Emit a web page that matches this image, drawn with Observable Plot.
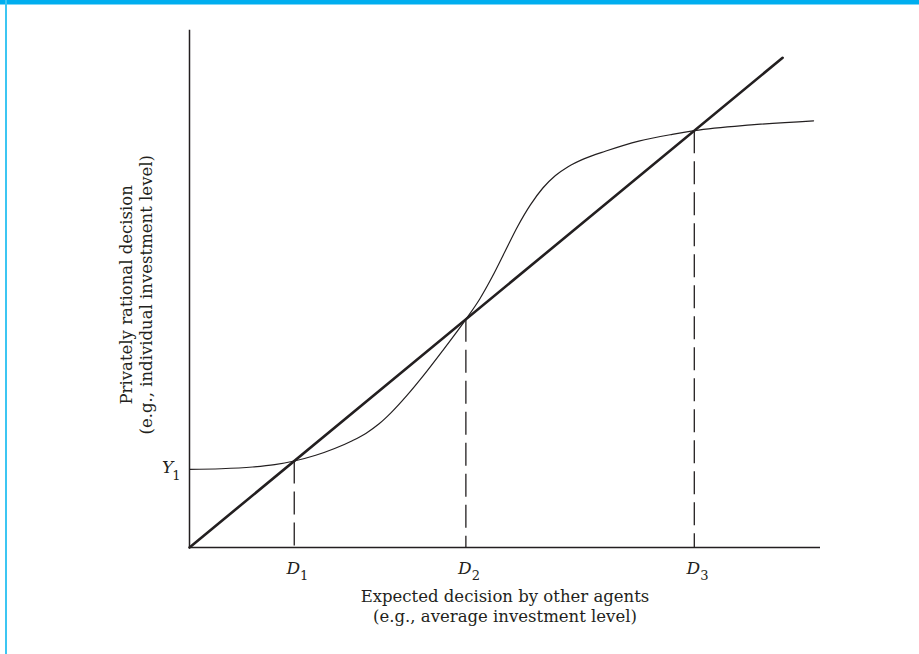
<!DOCTYPE html>
<html><head><meta charset="utf-8">
<script src="https://cdn.jsdelivr.net/npm/d3@7"></script>
<script src="https://cdn.jsdelivr.net/npm/@observablehq/plot@0.6"></script>
<style>
html,body{margin:0;padding:0;background:#fff;}
#frame{position:relative;width:919px;height:654px;overflow:hidden;background:#fff;}
#chart{position:absolute;left:0;top:0;}
#topbar{position:absolute;left:0;top:0;width:919px;height:4px;background:#00aeef;}
#topline{position:absolute;left:0;top:4px;width:919px;height:1px;background:#7fd6f6;}
#leftbar{position:absolute;left:5px;top:0;width:2px;height:654px;background:#3cc6f2;}
</style></head>
<body>
<div id="frame"><div id="chart"></div><div id="topbar"></div><div id="topline"></div><div id="leftbar"></div></div>
<script>
// Reaction curve (privately rational decision vs expected decision of others)
const curveX = [0, 0.05, 0.10, 0.135, 0.166, 0.20, 0.23, 0.258, 0.28, 0.30, 0.32, 0.345, 0.37, 0.40, 0.438, 0.46, 0.48, 0.50, 0.52, 0.54, 0.56, 0.58, 0.60, 0.625, 0.66, 0.712, 0.765, 0.800, 0.89, 0.989];
const curveY = [0.150, 0.1512, 0.1545, 0.159, 0.166, 0.177, 0.190, 0.205, 0.2195, 0.237, 0.2595, 0.2925, 0.329, 0.376, 0.438, 0.477, 0.520, 0.568, 0.616, 0.657, 0.690, 0.714, 0.731, 0.746, 0.761, 0.780, 0.793, 0.800, 0.811, 0.819];
// 45-degree line
const diagonalX = [0, 0.94];
// equilibria
const equilibria = [0.166, 0.438, 0.800];
const eqNames = ["D", "D", "D"];
const eqSubs = ["1", "2", "3"];
const y1Value = 0.150;
const y1Name = "Y";
const y1Sub = "1";
const xTitle = "Expected decision by other agents\n(e.g., average investment level)";
const yTitle = "Privately rational decision\n(e.g., individual investment level)";

const ink = "#231f20";
const curve = curveX.map((x, i) => ({x, y: curveY[i]}));
const diag = diagonalX.map(x => ({x, y: x}));
const eq = equilibria.map((x, i) => ({x, name: eqNames[i], sub: eqSubs[i]}));

const plot = Plot.plot({
  width: 919, height: 654,
  marginLeft: 189, marginRight: 99, marginTop: 26, marginBottom: 107,
  x: {domain: [0, 1], axis: null},
  y: {domain: [0, 1], axis: null},
  style: {fontFamily: "DejaVu Serif", color: ink, background: "transparent"},
  marks: [
    Plot.ruleX([0], {y1: 0, y2: 0.993, stroke: ink, strokeWidth: 1.5}),
    Plot.ruleY([0], {x1: 0, x2: 1, stroke: ink, strokeWidth: 1.5}),
    Plot.ruleX(eq, {x: "x", y1: "x", y2: 0, stroke: ink, strokeWidth: 1.3, strokeDasharray: "23,8"}),
    Plot.line(diag, {x: "x", y: "y", stroke: ink, strokeWidth: 2.6}),
    Plot.line(curve, {x: "x", y: "y", curve: "monotone-x", stroke: ink, strokeWidth: 1.2}),
    Plot.text(eq, {x: "x", y: 0, text: "name", dx: -1, dy: 21, fontSize: 17, fontStyle: "italic", fill: ink}),
    Plot.text(eq, {x: "x", y: 0, text: "sub", dx: 10, dy: 28, fontSize: 13, fill: ink}),
    Plot.text([y1Value], {x: 0, y: d => d, text: () => y1Name, dx: -22, dy: -2, fontSize: 17, fontStyle: "italic", fill: ink}),
    Plot.text([y1Value], {x: 0, y: d => d, text: () => y1Sub, dx: -13, dy: 6, fontSize: 13, fill: ink}),
    Plot.text([xTitle], {x: 0.5, y: 0, text: d => d, dy: 58, fontSize: 16.5, lineHeight: 1.2, fill: ink}),
    Plot.text([yTitle], {x: 0, y: 0.485, text: d => d, dx: -54, rotate: -90, fontSize: 16.5, lineHeight: 1.2, fill: ink})
  ]
});
document.getElementById("chart").appendChild(plot);
</script>
</body></html>
